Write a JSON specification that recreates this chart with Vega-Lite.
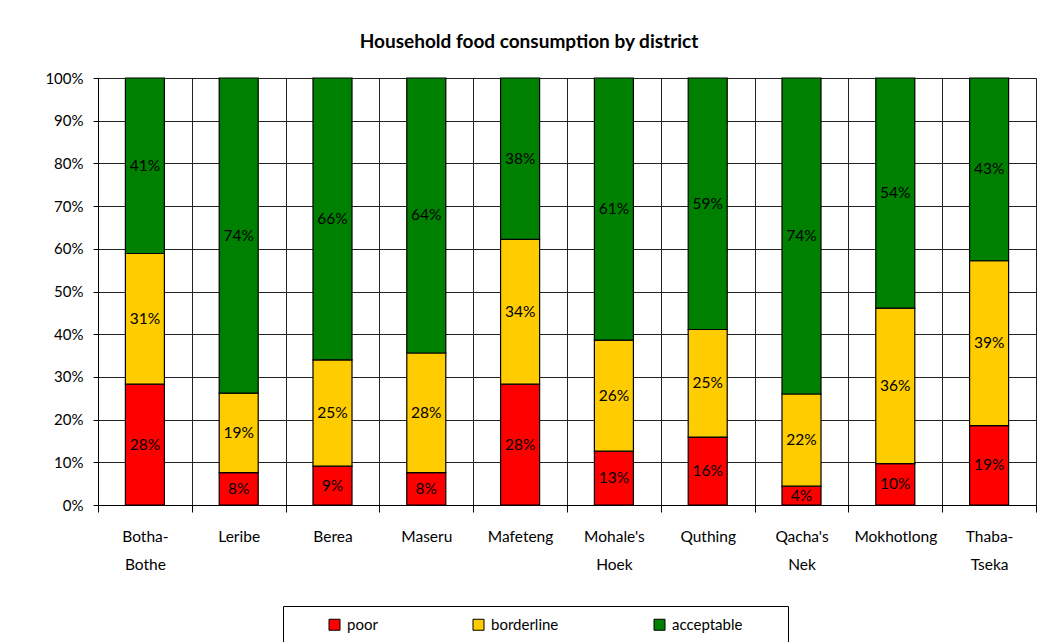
{
  "$schema": "https://vega.github.io/schema/vega-lite/v6.json",
  "autosize": "none",
  "width": 938,
  "height": 427,
  "padding": {"left": 98, "top": 78, "right": 4, "bottom": 137},
  "background": "white",
  "title": {
    "text": "Household food consumption by district",
    "font": "Lato",
    "fontSize": 19,
    "fontWeight": "bold",
    "color": "black",
    "anchor": "middle",
    "dx": -38,
    "offset": 4,
    "baseline": "alphabetic"
  },
  "data": {
    "values": [
      {"district": "Botha-Bothe", "category": "poor", "value": 0.283},
      {"district": "Botha-Bothe", "category": "borderline", "value": 0.306},
      {"district": "Botha-Bothe", "category": "acceptable", "value": 0.411},
      {"district": "Leribe", "category": "poor", "value": 0.076},
      {"district": "Leribe", "category": "borderline", "value": 0.186},
      {"district": "Leribe", "category": "acceptable", "value": 0.738},
      {"district": "Berea", "category": "poor", "value": 0.091},
      {"district": "Berea", "category": "borderline", "value": 0.249},
      {"district": "Berea", "category": "acceptable", "value": 0.66},
      {"district": "Maseru", "category": "poor", "value": 0.076},
      {"district": "Maseru", "category": "borderline", "value": 0.28},
      {"district": "Maseru", "category": "acceptable", "value": 0.644},
      {"district": "Mafeteng", "category": "poor", "value": 0.283},
      {"district": "Mafeteng", "category": "borderline", "value": 0.339},
      {"district": "Mafeteng", "category": "acceptable", "value": 0.378},
      {"district": "Mohale's Hoek", "category": "poor", "value": 0.126},
      {"district": "Mohale's Hoek", "category": "borderline", "value": 0.26},
      {"district": "Mohale's Hoek", "category": "acceptable", "value": 0.614},
      {"district": "Quthing", "category": "poor", "value": 0.159},
      {"district": "Quthing", "category": "borderline", "value": 0.252},
      {"district": "Quthing", "category": "acceptable", "value": 0.589},
      {"district": "Qacha's Nek", "category": "poor", "value": 0.044},
      {"district": "Qacha's Nek", "category": "borderline", "value": 0.216},
      {"district": "Qacha's Nek", "category": "acceptable", "value": 0.74},
      {"district": "Mokhotlong", "category": "poor", "value": 0.097},
      {"district": "Mokhotlong", "category": "borderline", "value": 0.364},
      {"district": "Mokhotlong", "category": "acceptable", "value": 0.539},
      {"district": "Thaba-Tseka", "category": "poor", "value": 0.186},
      {"district": "Thaba-Tseka", "category": "borderline", "value": 0.386},
      {"district": "Thaba-Tseka", "category": "acceptable", "value": 0.428}
    ]
  },
  "transform": [
    {
      "stack": "value",
      "groupby": ["district"],
      "sort": [{"field": "category", "order": "descending"}],
      "offset": "normalize",
      "as": ["y0", "y1"]
    }
  ],
  "encoding": {
    "x": {
      "field": "district",
      "type": "nominal",
      "sort": null,
      "scale": {"paddingInner": 0, "paddingOuter": 0},
      "axis": {
        "title": null,
        "labelAngle": 0,
        "tickBand": "extent",
        "grid": true,
        "gridColor": "#222",
        "gridOpacity": 1,
        "domainColor": "black",
        "tickColor": "black",
        "tickSize": 7,
        "labelFont": "Lato",
        "labelFontSize": 15.5,
        "labelColor": "black",
        "labelPadding": 17,
        "labelLineHeight": 28,
        "labelExpr": "split(replace(datum.label, '-', '- '), ' ')"
      }
    }
  },
  "layer": [
    {
      "mark": {"type": "bar", "width": {"band": 0.416}, "stroke": "black", "strokeWidth": 1.2},
      "encoding": {
        "y": {
          "field": "y0",
          "type": "quantitative",
          "scale": {"domain": [0, 1], "nice": false},
          "axis": {
            "title": null,
            "format": ".0%",
            "values": [0, 0.1, 0.2, 0.3, 0.4, 0.5, 0.6, 0.7, 0.8, 0.9, 1],
            "grid": true,
            "gridColor": "#222",
            "gridOpacity": 1,
            "domainColor": "black",
            "tickColor": "black",
            "tickSize": 5,
            "labelFont": "Lato",
            "labelFontSize": 15,
            "labelColor": "black",
            "labelPadding": 10
          }
        },
        "y2": {"field": "y1"},
        "color": {
          "field": "category",
          "type": "nominal",
          "scale": {
            "domain": ["poor", "borderline", "acceptable"],
            "range": ["#FF0000", "#FFCC00", "#008000"]
          },
          "legend": {
            "title": "\u00a0",
            "titleOrient": "right",
            "titleFontSize": 8,
            "titlePadding": 35,
            "orient": "none",
            "legendX": 185,
            "legendY": 528,
            "direction": "horizontal",
            "strokeColor": "black",
            "fillColor": "white",
            "padding": 11,
            "symbolType": "square",
            "symbolSize": 121,
            "symbolStrokeColor": "black",
            "symbolStrokeWidth": 1,
            "symbolOpacity": 1,
            "symbolOffset": 33,
            "labelOffset": 5,
            "labelFont": "Lato",
            "labelFontSize": 15,
            "labelColor": "black",
            "columnPadding": 60
          }
        }
      }
    },
    {
      "transform": [
        {"fold": ["y0", "y1"], "as": ["edge", "pos"]},
        {"aggregate": [{"op": "mean", "field": "pos", "as": "mid"}], "groupby": ["district", "category", "value"]}
      ],
      "mark": {"type": "text", "font": "Lato", "fontSize": 15.5, "color": "black", "baseline": "middle"},
      "encoding": {
        "y": {"field": "mid", "type": "quantitative"},
        "text": {"field": "value", "type": "quantitative", "format": ".0%"}
      }
    }
  ],
  "config": {
    "view": {"stroke": "#999", "strokeWidth": 1}
  }
}
